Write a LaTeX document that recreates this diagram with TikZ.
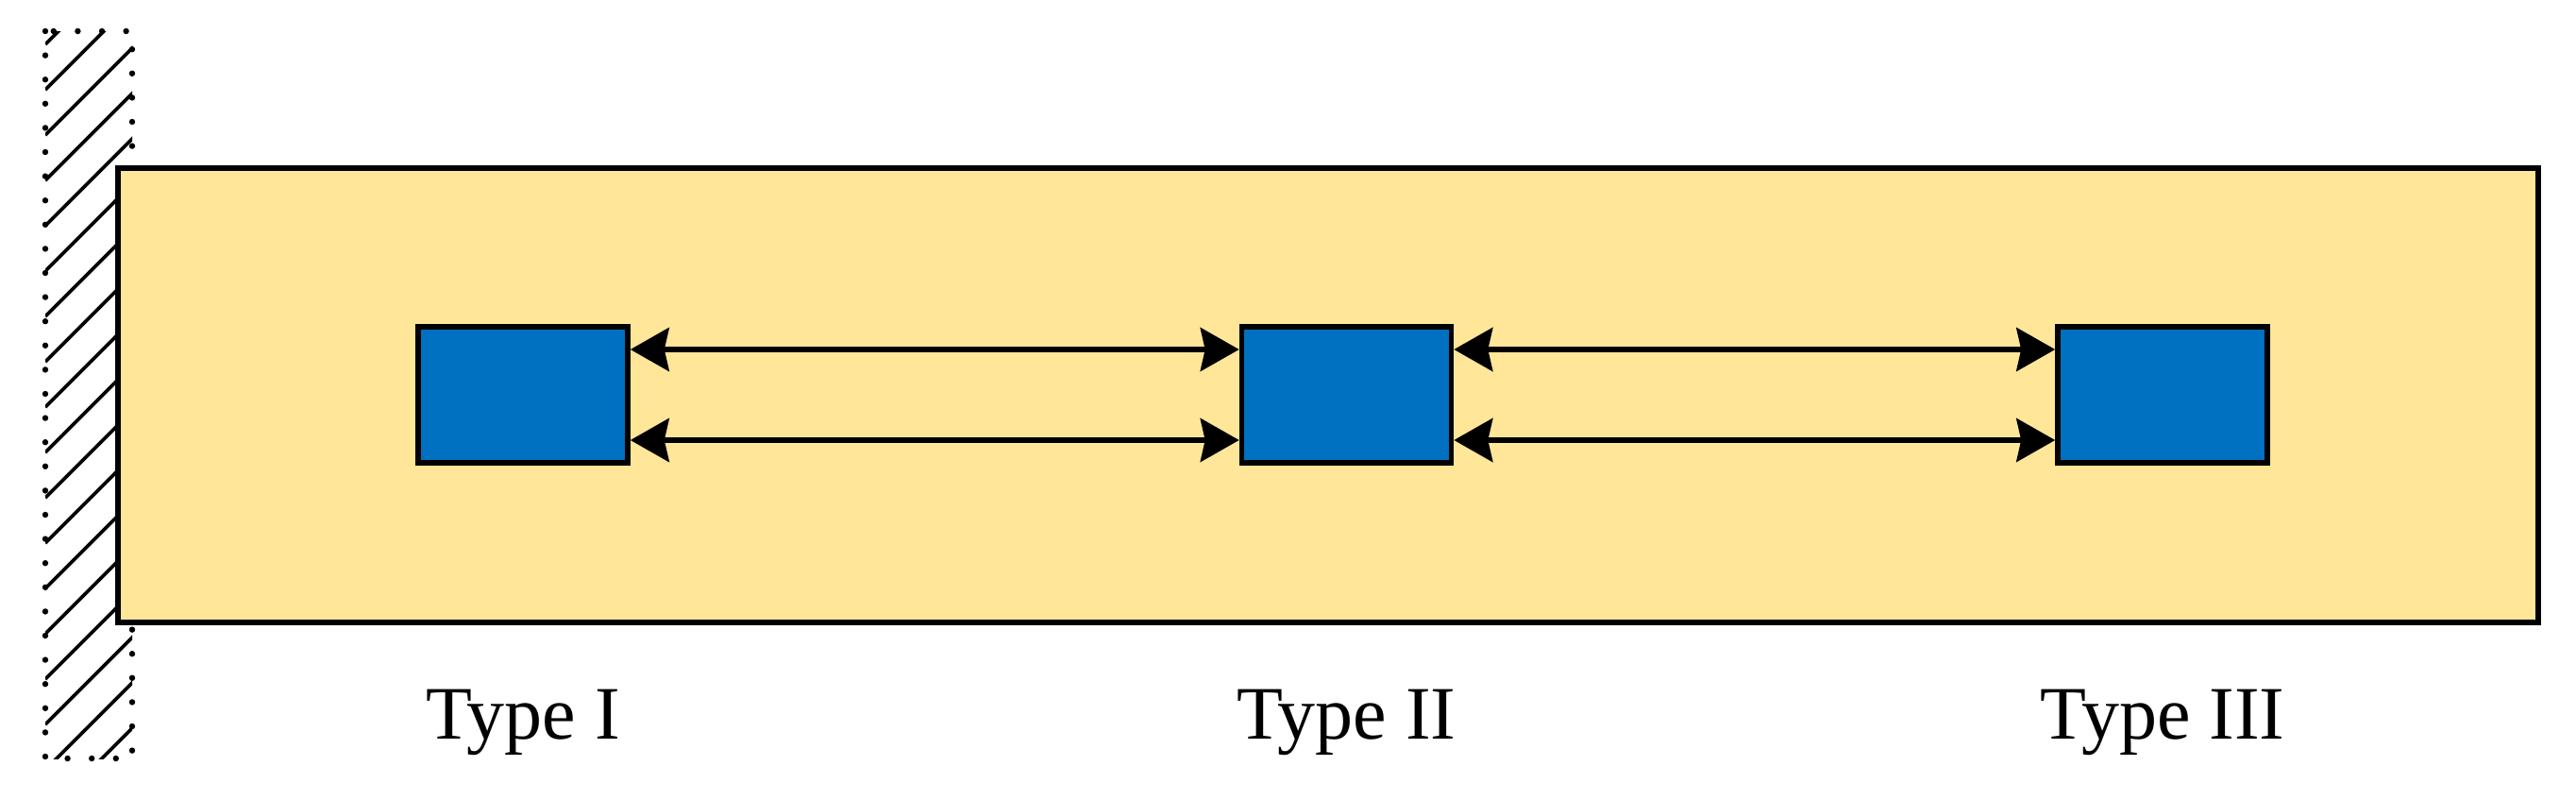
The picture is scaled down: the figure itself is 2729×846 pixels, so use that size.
\documentclass[tikz,border=0pt]{standalone}
\usepackage{fontspec}
\setmainfont{Liberation Serif}
\usetikzlibrary{arrows.meta}
\definecolor{bandyellow}{HTML}{FFE699}
\definecolor{boxblue}{HTML}{0070C0}
\begin{document}
\begin{tikzpicture}[x=0.25pt,y=-0.25pt,
  band/.style={draw=black,fill=bandyellow,line width=1.4pt},
  cell/.style={draw=black,fill=boxblue,line width=1.4pt,minimum width=55.5pt,minimum height=36pt,inner sep=0pt},
  link/.style={line width=1.35pt,{Stealth[length=10.25pt,width=11.5pt,inset=1.25pt]}-{Stealth[length=10.25pt,width=11.5pt,inset=1.25pt]}},
  hatch/.style={line width=0.9pt,black},
  wallborder/.style={line width=1.6pt,line cap=round,dash pattern=on 0pt off 6.4pt},
  lab/.style={anchor=base,font=\fontsize{20}{24}\selectfont,inner sep=0pt}]
\useasboundingbox (0,0) rectangle (2729,846);
% wall
\begin{scope}
  \clip (48,33) rectangle (140,803);
  \foreach \k in {0,...,19} \draw[hatch] (48,{-1+48*\k}) -- ++(120,-120);
\end{scope}
\draw[wallborder] (48,33) rectangle (140,803);
% band
\draw[band] (125,178) rectangle (2689,659);
% cells
\node[cell] (b1) at (554,418) {};
\node[cell] (b2) at (1426.5,418) {};
\node[cell] (b3) at (2291,418) {};
% links
\draw[link] ([yshift=12pt]b1.east) -- ([yshift=12pt]b2.west);
\draw[link] ([yshift=-12pt]b1.east) -- ([yshift=-12pt]b2.west);
\draw[link] ([yshift=12pt]b2.east) -- ([yshift=12pt]b3.west);
\draw[link] ([yshift=-12pt]b2.east) -- ([yshift=-12pt]b3.west);
% labels
\coordinate (base) at (0,782);
\node[lab] (t1) at (b1 |- base) {Type I};
\node[lab] (t2) at (b2 |- base) {Type II};
\node[lab] (t3) at (b3 |- base) {Type III};
\end{tikzpicture}
\end{document}
